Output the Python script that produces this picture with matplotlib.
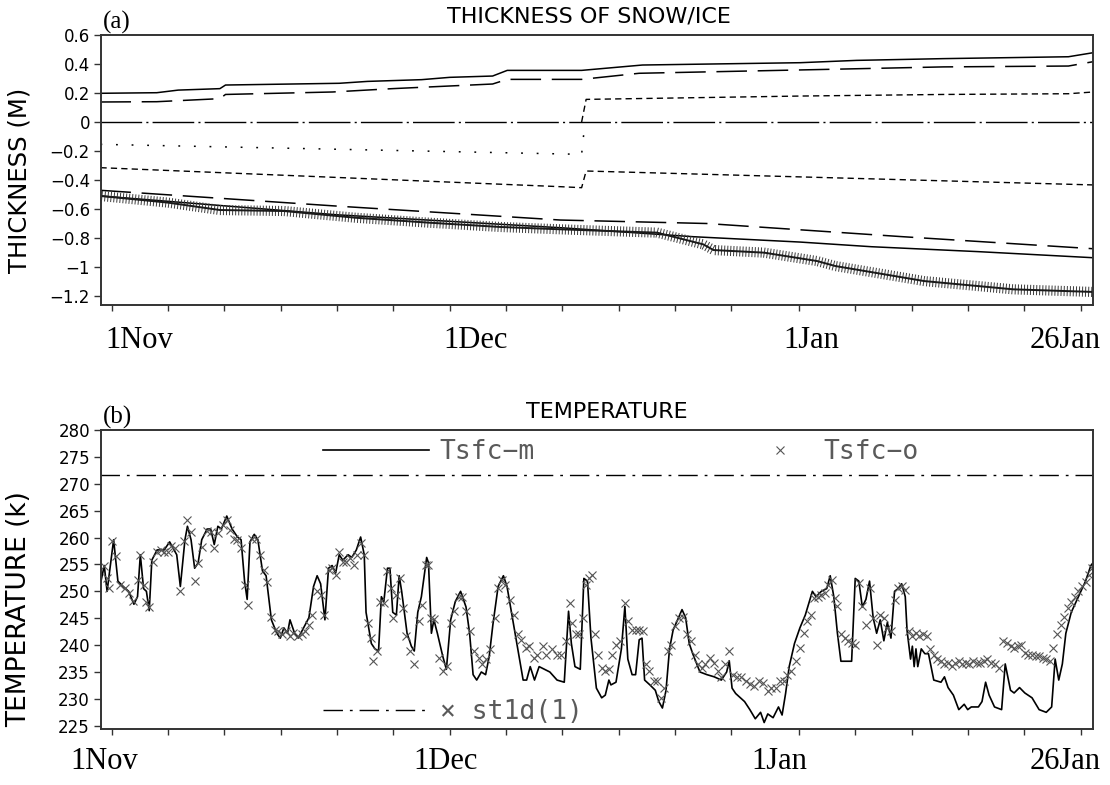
import numpy as np
import matplotlib
matplotlib.use('Agg')
import matplotlib.pyplot as plt
from matplotlib import patheffects as pe

# time axis: days since 1 Nov (1 Dec = 30, 1 Jan = 61, 26 Jan = 86)
X_LIM = (-0.95, 87.08)
MINOR_DAYS = [0, 5, 10, 15, 20, 25, 30, 35, 40, 45, 50, 55, 61, 66, 71, 76, 81, 86]
LABEL_DAYS = [0, 30, 61, 86]
LABEL_TEXT = ['1Nov', '1Dec', '1Jan', '26Jan']

# ---- panel (a): thickness of snow / ice layers (m) ----
snow_top_days = [-1.0, 4.0, 5.9, 9.6, 10.1, 20.2, 22.7, 27.5, 30.0, 33.8, 35.1, 41.7, 47.1, 61.1, 66.1, 73.8, 84.9, 87.1]
snow_top_vals = [0.198, 0.202, 0.22, 0.23, 0.255, 0.267, 0.28, 0.292, 0.308, 0.317, 0.356, 0.356, 0.393, 0.409, 0.425, 0.437, 0.45, 0.478]

ice_top_days = [-1.0, 4.0, 9.6, 10.1, 19.6, 24.9, 33.8, 35.1, 41.7, 46.8, 61.1, 73.8, 84.9, 87.1]
ice_top_vals = [0.138, 0.14, 0.161, 0.19, 0.207, 0.23, 0.262, 0.294, 0.294, 0.336, 0.359, 0.38, 0.386, 0.416]

sea_level_days = [-1.0, 87.1]
sea_level_vals = [0.0, 0.0]

snowice_days = [-1.0, 41.7, 42.0]
snowice_vals = [-0.154, -0.223, 0.0]

upper_frz_days = [41.7, 42.1, 61.1, 73.8, 84.9, 87.1]
upper_frz_vals = [0.0, 0.156, 0.179, 0.19, 0.195, 0.207]

lower_frz_days = [-1.0, 39.8, 41.7, 42.1, 87.1]
lower_frz_vals = [-0.315, -0.446, -0.453, -0.338, -0.434]

ice_bot_days = [-1.0, 20.0, 39.8, 52.8, 70.0, 87.1]
ice_bot_vals = [-0.471, -0.58, -0.676, -0.70, -0.79, -0.874]

model_bot_days = [-1.0, 20.0, 40.0, 51.6, 61.1, 67.4, 76.9, 87.1]
model_bot_vals = [-0.51, -0.64, -0.73, -0.791, -0.828, -0.86, -0.894, -0.936]

obs_bot_days = [-1.0, 5.0, 9.6, 15.3, 21.6, 28.1, 34.5, 39.8, 46.8, 48.4, 52.5, 53.4, 57.9, 62.6, 64.2, 72.1, 80.0, 87.1]
obs_bot_vals = [-0.51, -0.556, -0.607, -0.614, -0.66, -0.694, -0.724, -0.74, -0.759, -0.763, -0.844, -0.883, -0.901,
                -0.959, -0.993, -1.097, -1.154, -1.172]

# ---- panel (b): surface temperature (K) ----
tsfc_m_days = [
    -0.95, -0.66, -0.41, 0.17, 0.55, 1.02, 1.5, 1.97, 2.29, 2.54, 2.83, 3.08, 3.33, 3.56, 4.03, 4.66, 5.14, 5.77,
    6.09, 6.5, 6.72, 7.04, 7.36, 7.67, 7.99, 8.47, 8.78, 9.1, 9.42, 9.73, 10.21, 10.68, 11.16, 11.48, 11.79, 12.02,
    12.27, 12.65, 12.97, 13.38, 13.7, 14.17, 14.65, 14.96, 15.28, 15.6, 15.82, 16.23, 16.55, 17.02, 17.5, 17.91,
    18.23, 18.54, 18.92, 19.24, 19.56, 19.87, 20.19, 20.51, 20.98, 21.3, 21.71, 22.09, 22.41, 22.57, 23.04, 23.36,
    23.68, 23.93, 24.15, 24.47, 24.69, 24.94, 25.26, 25.51, 25.73, 26.21, 26.59, 26.85, 27.16, 27.48, 27.95, 28.11,
    28.37, 28.59, 28.9, 29.38, 29.7, 30.08, 30.49, 30.96, 31.44, 31.76, 32.07, 32.39, 32.8, 33.18, 33.5, 33.82,
    34.29, 34.76, 35.08, 35.56, 36.03, 36.51, 36.82, 37.14, 37.52, 37.93, 38.41, 38.88, 39.52, 40.16, 40.54, 40.79,
    41.11, 41.58, 41.9, 42.22, 42.53, 43.01, 43.48, 43.8, 44.12, 44.3, 44.75, 45.23, 45.54, 45.8, 46.18, 46.49,
    46.81, 47.06, 47.29, 47.76, 48.24, 48.55, 48.87, 49.19, 49.5, 49.82, 50.3, 50.61, 50.93, 51.25, 51.56, 52.2,
    52.83, 53.47, 54.1, 54.57, 54.8, 55.05, 55.37, 56.16, 56.63, 57.11, 57.58, 57.9, 58.22, 58.69, 59.17, 59.49,
    59.8, 60.12, 60.59, 61.07, 61.55, 62.18, 62.5, 62.97, 63.45, 63.76, 64.08, 64.4, 64.71, 65.19, 65.66, 65.98,
    66.3, 66.61, 66.93, 67.25, 67.57, 67.88, 68.2, 68.52, 68.83, 69.15, 69.47, 69.78, 70.1, 70.42, 70.58, 70.89,
    71.05, 71.21, 71.37, 71.53, 71.84, 72.16, 72.48, 72.95, 73.59, 73.9, 74.22, 74.69, 75.17, 75.65, 75.96, 76.28,
    76.91, 77.23, 77.55, 77.86, 78.34, 78.97, 79.29, 79.76, 80.08, 80.56, 81.03, 81.67, 82.3, 82.93, 83.41, 83.72,
    84.04, 84.36, 84.67, 85.15, 85.78, 86.42, 86.89, 87.08]
tsfc_m_vals = [
    251.9, 254.8, 250.0, 259.6, 251.9, 250.9, 250.0, 247.6, 249.0, 256.8, 250.5, 250.0, 246.4, 255.8, 257.7, 257.7, 259.2, 256.8,
    250.9, 259.6, 262.1, 259.6, 254.3, 255.3, 259.6, 261.6, 261.6, 258.7, 262.1, 261.6, 264.0, 261.6, 260.1, 259.6, 251.9, 248.5,
    259.2, 260.6, 259.6, 253.8, 252.9, 244.7, 242.2, 241.3, 243.2, 242.2, 244.7, 242.2, 241.3, 243.2, 245.1, 250.9,
    252.9, 251.4, 244.7, 254.3, 254.8, 253.4, 256.8, 255.8, 256.8, 256.3, 257.7, 260.1, 256.8, 246.1, 240.3, 239.3,
    238.9, 249.0, 248.1, 254.3, 254.3, 246.1, 245.6, 252.9, 250.0, 242.2, 239.8, 238.9, 246.1, 249.0, 256.3, 255.3,
    242.2, 244.7, 242.2, 237.9, 235.5, 244.7, 248.1, 250.0, 247.1, 242.2, 234.5, 233.5, 235.0, 234.5, 237.9, 243.7,
    250.9, 252.9, 250.9, 245.1, 239.3, 233.5, 233.5, 236.0, 233.5, 236.0, 235.5, 235.0, 233.5, 233.1, 246.3, 240.3,
    236.0, 235.5, 252.4, 251.9, 241.3, 232.0, 230.2, 230.7, 233.5, 232.6, 233.1, 239.3, 247.2, 237.4, 234.5, 234.5,
    241.0, 241.3, 233.5, 232.6, 231.6, 229.5, 228.3, 231.6, 239.3, 242.8, 245.1, 246.6, 245.1, 240.3, 238.4, 235.0,
    234.5, 234.1, 233.5, 235.0, 237.1, 232.0, 231.0, 229.5, 228.0, 226.3, 227.5, 225.6, 227.2, 226.5, 228.5, 227.0,
    231.0, 236.0, 240.3, 243.2, 245.6, 250.0, 249.0, 250.0, 250.5, 252.9, 249.0, 242.2, 237.0, 237.0, 237.0, 252.4,
    251.9, 247.1, 248.5, 251.9, 245.1, 242.2, 244.7, 240.8, 244.2, 241.3, 250.0, 250.5, 251.4, 249.0, 242.7, 237.4,
    239.8, 236.0, 239.3, 236.0, 239.3, 238.4, 238.4, 233.5, 233.1, 234.1, 232.1, 230.7, 228.0, 229.0, 228.0, 228.5,
    228.5, 229.5, 233.1, 230.7, 228.5, 228.0, 236.5, 231.6, 231.1, 232.1, 231.1, 230.2, 228.0, 227.5, 228.5, 237.4,
    233.5, 236.5, 242.2, 246.1, 249.0, 251.9, 254.8, 255.3]

tsfc_o_days = [
    -0.66, -0.41, -0.25, 0.07, 0.39, 0.70, 1.18, 1.50, 1.88, 2.29, 2.54, 2.83, 3.08, 3.33, 3.65, 4.03, 4.35, 4.66,
    4.98, 5.24, 5.62, 6.09, 6.41, 6.72, 7.04, 7.36, 7.67, 7.99, 8.47, 8.78, 9.10, 9.42, 9.89, 10.21, 10.53, 10.84,
    11.16, 11.48, 11.79, 12.11, 12.43, 12.84, 13.16, 13.54, 13.79, 14.17, 14.49, 14.80, 15.12, 15.44, 15.82, 16.13,
    16.55, 16.86, 17.18, 17.50, 17.81, 18.23, 18.54, 18.86, 19.24, 19.56, 19.87, 20.19, 20.51, 20.82, 21.14, 21.46,
    21.77, 22.09, 22.41, 22.72, 23.04, 23.20, 23.52, 23.83, 24.15, 24.47, 24.79, 24.94, 25.26, 25.58, 25.83, 26.15,
    26.46, 26.85, 27.23, 27.54, 27.86, 28.11, 28.37, 28.59, 29.00, 29.38, 29.76, 30.08, 30.39, 30.81, 31.12, 31.44,
    31.76, 32.17, 32.55, 32.86, 33.18, 33.56, 33.97, 34.29, 34.61, 34.92, 35.34, 35.72, 36.03, 36.35, 36.73, 37.05,
    37.46, 37.78, 38.25, 38.57, 39.04, 39.52, 39.84, 40.32, 40.63, 40.85, 41.17, 41.49, 41.81, 42.06, 42.38, 42.63,
    42.85, 43.17, 43.48, 43.80, 44.12, 44.43, 44.75, 45.07, 45.54, 45.86, 46.18, 46.49, 46.81, 47.13, 47.38, 47.70,
    48.08, 48.40, 48.78, 49.03, 49.35, 49.66, 49.98, 50.30, 50.68, 51.09, 51.41, 51.72, 52.04, 52.36, 52.67, 53.09,
    53.47, 53.78, 54.10, 54.42, 54.80, 55.11, 55.52, 55.84, 56.25, 56.63, 57.01, 57.43, 57.84, 58.22, 58.53, 58.91,
    59.33, 59.64, 59.96, 60.28, 60.69, 61.07, 61.39, 61.70, 62.02, 62.34, 62.65, 62.97, 63.29, 63.60, 63.92, 64.17,
    64.40, 64.71, 65.03, 65.35, 65.66, 65.98, 66.30, 66.61, 66.93, 67.25, 67.57, 67.88, 68.20, 68.52, 68.83, 69.15,
    69.47, 69.78, 70.10, 70.42, 70.73, 71.05, 71.37, 71.68, 72.00, 72.32, 72.63, 72.95, 73.27, 73.59, 73.90, 74.22,
    74.54, 74.85, 75.17, 75.49, 75.80, 76.12, 76.44, 76.75, 77.07, 77.39, 77.70, 78.02, 78.34, 78.75, 79.13, 79.45,
    79.76, 80.08, 80.40, 80.71, 81.03, 81.35, 81.67, 81.98, 82.30, 82.62, 82.93, 83.25, 83.57, 83.88, 84.20, 84.52,
    84.83, 85.15, 85.47, 85.78, 86.10, 86.42, 86.74, 86.99]
tsfc_o_vals = [
    254.8, 252.4, 250.7, 259.3, 256.5, 251.2, 250.6, 249.7, 248.2, 252.1, 256.8, 251.2, 248.1, 247.1, 255.5, 257.4, 257.7, 257.4,
    257.3, 258.5, 258.0, 250.1, 259.3, 263.2, 261.1, 251.9, 255.2, 258.3, 261.2, 261.1, 258.0, 260.8, 262.4, 263.2, 261.4, 259.8,
    259.6, 258.0, 251.2, 247.4, 259.8, 259.8, 256.8, 253.9, 251.8, 245.3, 242.8, 242.6, 242.1, 242.6, 241.7, 242.2,
    241.7, 242.0, 242.6, 243.8, 245.6, 250.0, 249.4, 245.6, 253.9, 254.3, 253.1, 257.4, 255.5, 255.5, 256.2, 254.9,
    256.8, 259.0, 256.8, 244.1, 241.3, 237.0, 238.9, 248.1, 247.9, 253.8, 250.6, 245.0, 249.4, 252.4, 246.9, 241.7,
    238.9, 236.4, 244.4, 247.5, 254.9, 254.9, 245.0, 244.8, 237.6, 235.1, 236.1, 244.1, 246.3, 249.0, 249.0, 246.3,
    242.6, 238.9, 237.6, 236.4, 237.4, 239.2, 245.0, 250.6, 252.1, 251.2, 248.4, 245.6, 242.0, 241.0, 239.4, 239.8,
    237.6, 238.2, 239.8, 238.2, 239.2, 238.2, 238.2, 240.7, 247.9, 244.1, 242.0, 242.0, 245.0, 251.2, 252.4, 253.1,
    242.0, 238.2, 235.8, 235.1, 235.5, 238.2, 240.1, 240.7, 247.9, 244.4, 242.9, 242.9, 242.9, 242.6, 236.4, 235.1,
    233.3, 233.3, 230.2, 232.1, 238.9, 240.1, 243.5, 245.0, 245.3, 242.0, 240.7, 238.2, 236.4, 235.8, 236.4, 237.6,
    236.7, 235.1, 234.0, 236.4, 238.9, 234.5, 234.0, 234.0, 233.3, 232.7, 232.4, 233.3, 233.0, 231.4, 232.1, 232.1,
    233.3, 233.3, 234.5, 235.1, 237.0, 239.4, 242.2, 244.4, 245.6, 248.7, 249.0, 249.4, 249.7, 251.2, 252.1, 248.7,
    247.2, 242.0, 241.3, 240.7, 240.4, 240.1, 251.5, 247.2, 243.8, 250.6, 245.0, 240.1, 245.6, 245.0, 243.2, 242.6,
    248.4, 250.6, 250.9, 250.3, 242.6, 241.7, 242.2, 241.7, 242.0, 241.7, 239.2, 238.2, 237.4, 237.0, 236.4, 236.7,
    236.1, 236.7, 237.0, 236.4, 236.7, 236.4, 237.0, 236.7, 236.7, 237.0, 237.4, 236.7, 236.4, 235.8, 240.7, 240.4,
    239.8, 239.4, 239.8, 240.1, 238.6, 238.2, 238.2, 237.9, 237.9, 237.6, 237.4, 237.0, 239.4, 242.0, 243.8, 245.3,
    246.9, 248.1, 249.0, 250.0, 250.9, 251.8, 253.1, 254.3]

st1d_days = [-1.0, 87.1]
st1d_vals = [271.6, 271.6]

FRAME = '#333333'
LONG_DASH = (20, 7)
SHORT_DASH = (4.5, 3)
DOTS = (1.2, 9)
ZERO_DASHDOT = (30, 3, 1.5, 3)
ST1D_DASHDOT = (14, 5, 2, 5)


def style_axes(ax, yticks, ylabels, ylim):
    ax.set_xlim(*X_LIM)
    ax.set_ylim(*ylim)
    ax.set_xticks(MINOR_DAYS)
    ax.set_xticklabels([])
    ax.set_yticks(yticks)
    ax.set_yticklabels(ylabels, fontsize=12)
    ax.tick_params(axis='both', direction='out', color=FRAME, width=1.0)
    ax.tick_params(axis='x', length=4)
    ax.tick_params(axis='y', length=5, pad=3)
    for side in ax.spines.values():
        side.set_color(FRAME)
        side.set_linewidth(1.4)


def add_date_labels(ax, offsets, drop):
    for day, text, dx in zip(LABEL_DAYS, LABEL_TEXT, offsets):
        ax.annotate(text, xy=(day, 0), xycoords=('data', 'axes fraction'),
                    xytext=(dx, -drop), textcoords='offset points',
                    ha='center', va='top', fontsize=22, family='Liberation Serif',
                    annotation_clip=False)


def main():
    plt.rcParams['font.family'] = 'DejaVu Sans'
    fig = plt.figure(figsize=(11.1, 7.85), dpi=100)
    W, H = 1110.0, 785.0
    ax1 = fig.add_axes([101 / W, 1 - 305 / H, 992 / W, 270 / H])
    ax2 = fig.add_axes([101 / W, 1 - 729 / H, 992 / W, 299 / H])

    # panel (a)
    ax1.plot(snow_top_days, snow_top_vals, color='black', lw=1.1)
    ax1.plot(ice_top_days, ice_top_vals, color='black', lw=1.1, dashes=LONG_DASH)
    ax1.plot(sea_level_days, sea_level_vals, color='black', lw=1.0, dashes=ZERO_DASHDOT)
    ax1.plot(snowice_days, snowice_vals, color='black', lw=1.1, dashes=DOTS)
    ax1.plot(upper_frz_days, upper_frz_vals, color='black', lw=1.0, dashes=SHORT_DASH)
    ax1.plot(lower_frz_days, lower_frz_vals, color='black', lw=1.0, dashes=SHORT_DASH)
    ax1.plot(ice_bot_days, ice_bot_vals, color='black', lw=1.1, dashes=LONG_DASH)
    ax1.plot(model_bot_days, model_bot_vals, color='black', lw=1.1)
    crosses = [pe.TickedStroke(angle=90, spacing=2.2, length=1.5, linewidth=0.7, foreground='#3a3a3a'),
               pe.TickedStroke(angle=-90, spacing=2.2, length=1.5, linewidth=0.7, foreground='#3a3a3a'),
               pe.Normal()]
    ax1.plot(obs_bot_days, obs_bot_vals, color='#1a1a1a', lw=1.4, path_effects=crosses)

    t_ticks = [0.6, 0.4, 0.2, 0.0, -0.2, -0.4, -0.6, -0.8, -1.0, -1.2]
    t_labels = ['0.6', '0.4', '0.2', '0', '\u22120.2', '\u22120.4', '\u22120.6', '\u22120.8', '\u22121', '\u22121.2']
    style_axes(ax1, t_ticks, t_labels, (-1.262, 0.6))
    ax1.set_ylabel('THICKNESS (M)', fontsize=17.5)
    ax1.yaxis.set_label_coords(-0.07, 0.46)
    ax1.set_title('THICKNESS OF SNOW/ICE', fontsize=16, pad=9, x=0.492)
    ax1.text(0.002, 1.003, '(a)', transform=ax1.transAxes, ha='left', va='bottom',
             family='Liberation Serif', fontsize=18)
    add_date_labels(ax1, [19.5, 18.7, 8.6, -11.3], 15)

    # panel (b)
    st1d_line, = ax2.plot(st1d_days, st1d_vals, color='black', lw=1.0, dashes=ST1D_DASHDOT)
    model_line, = ax2.plot(tsfc_m_days, tsfc_m_vals, color='black', lw=1.2)
    obs_pts, = ax2.plot(tsfc_o_days, tsfc_o_vals, ls='none', marker='x', ms=5.5, mew=0.8, color='#555555')

    k_ticks = list(range(225, 281, 5))
    style_axes(ax2, k_ticks, [str(k) for k in k_ticks], (224.4, 280))
    ax2.set_ylabel('TEMPERATURE (k)', fontsize=19)
    ax2.yaxis.set_label_coords(-0.069, 0.40)
    ax2.set_title('TEMPERATURE', fontsize=16, pad=9, x=0.51)
    ax2.text(0.002, 1.003, '(b)', transform=ax2.transAxes, ha='left', va='bottom',
             family='Liberation Serif', fontsize=18)
    add_date_labels(ax2, [-5.5, -3, -14, -11.3], 13)

    leg_font = {'family': 'DejaVu Sans Mono', 'size': 19}
    common = dict(frameon=False, borderpad=0, borderaxespad=0, prop=leg_font, labelcolor='#5a5a5a')
    leg_m = ax2.legend([model_line], ['Tsfc\u2212m'], loc='center left', bbox_to_anchor=(0.2238, 0.925),
                       handlelength=4.0, handletextpad=0.42, **common)
    ax2.add_artist(leg_m)
    leg_o = ax2.legend([obs_pts], ['Tsfc\u2212o'], loc='center left', bbox_to_anchor=(0.658, 0.925),
                       handlelength=2.0, handletextpad=0.63, **common)
    ax2.add_artist(leg_o)
    ax2.legend([st1d_line], ['\u00d7 st1d(1)'], loc='center left', bbox_to_anchor=(0.2238, 0.057),
               handlelength=4.0, handletextpad=0.42, **common)

    fig.savefig('out.png', dpi=100)
    plt.close(fig)


if __name__ == '__main__':
    main()
